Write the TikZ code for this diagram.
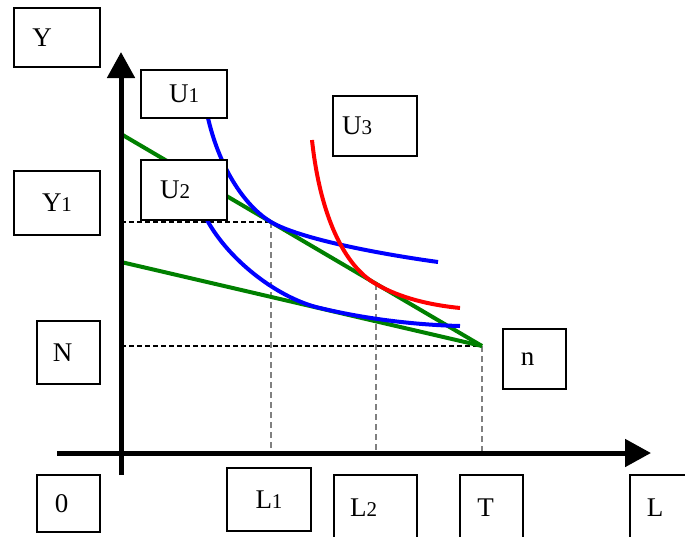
\documentclass[tikz,border=0pt]{standalone}
\usepackage{fontspec}
\setmainfont{Liberation Serif}
\usepackage{xcolor}
\usetikzlibrary{arrows.meta}
\definecolor{budgetgreen}{HTML}{008000}
\newcommand{\ix}[1]{{\fontsize{21}{21}\selectfont #1}}

\tikzset{
  axis/.style={line width=5pt,-{Triangle[length=26pt,width=27pt]}},
  budget/.style={line width=4pt,budgetgreen},
  indiff/.style={line width=4pt},
  guide/.style={line width=1.2pt,dash pattern=on 5pt off 3pt},
  guidegray/.style={line width=1.5pt,gray,dash pattern=on 6pt off 4pt},
  tag/.style={draw,line width=1.3pt,fill=white,inner sep=0pt,font=\fontsize{27}{30}\selectfont}
}

\begin{document}
\begin{tikzpicture}[x=1pt,y=-1pt]
\useasboundingbox (0,0) rectangle (685,536);
% points
\coordinate (ybot) at (121,475); \coordinate (ytop) at (121,52);
\coordinate (xleft) at (57,453); \coordinate (xright) at (651,453);
\coordinate (A) at (121,134); \coordinate (B) at (121,262);
\coordinate (Tn) at (482,346); \coordinate (Npt) at (121,346);
\coordinate (E1) at (271,222); \coordinate (E2) at (376,284);
\coordinate (Y1pt) at (121,222);
\coordinate (L1pt) at (271,453); \coordinate (L2pt) at (376,453); \coordinate (Tpt) at (482,453);
% guides
\draw[guide] (Npt) -- (Tn); \draw[guide] (Y1pt) -- (E1);
\draw[guidegray] (E1) -- (L1pt); \draw[guidegray] (E2) -- (L2pt); \draw[guidegray] (Tn) -- (Tpt);
% budget lines
\draw[budget] (A) -- (Tn);
\draw[budget] (B) -- (Tn);
% indifference curves
\draw[indiff,blue] (208,118) .. controls (220,170) and (246,207) .. (E1) .. controls (300,239) and (380,254) .. (438,262);
\draw[indiff,blue] (207,220) .. controls (230,262) and (280,299) .. (320,308) .. controls (370,320) and (420,325) .. (460,326);
\draw[indiff,red] (312,140) .. controls (320,215) and (344,266) .. (E2) .. controls (400,298) and (430,305) .. (460,308);
% axes
\draw[axis] (ybot) -- (ytop);
\draw[axis] (xleft) -- (xright);
% labels
\node[tag,minimum width=86pt,minimum height=59pt] (lY) at (57,37.5) {Y\hspace*{30pt}};
\node[tag,minimum width=86pt,minimum height=48pt] (lU1) at (184,94) {U\ix{1}};
\node[tag,minimum width=86pt,minimum height=60pt] (lU2) at (184,190) {U\ix{2}\hspace*{18pt}};
\node[tag,minimum width=86pt,minimum height=64pt] (lY1) at (57,203) {Y\ix{1}};
\node[tag,minimum width=84pt,minimum height=60pt] (lU3) at (375,126) {U\ix{3}\hspace*{36pt}};
\node[tag,minimum width=63pt,minimum height=63pt] (lN) at (68.5,352.5) {N\hspace*{12pt}};
\node[tag,minimum width=63pt,minimum height=60pt] (ln) at (534.5,359) {n\hspace*{14pt}};
\node[tag,minimum width=63pt,minimum height=57pt] (l0) at (68.5,503.5) {0\hspace*{14pt}};
\node[tag,minimum width=84pt,minimum height=63pt] (lL1) at (269,499.5) {L\ix{1}};
\node[tag,minimum width=83pt,minimum height=65pt] (lL2) at (375.5,507.5) {L\ix{2}\hspace*{24pt}};
\node[tag,minimum width=63pt,minimum height=65pt] (lT) at (491.5,507.5) {T\hspace*{12pt}};
\node[tag,minimum width=60pt,minimum height=65pt] (lL) at (660,507.5) {L\hspace*{10pt}};
\end{tikzpicture}
\end{document}
